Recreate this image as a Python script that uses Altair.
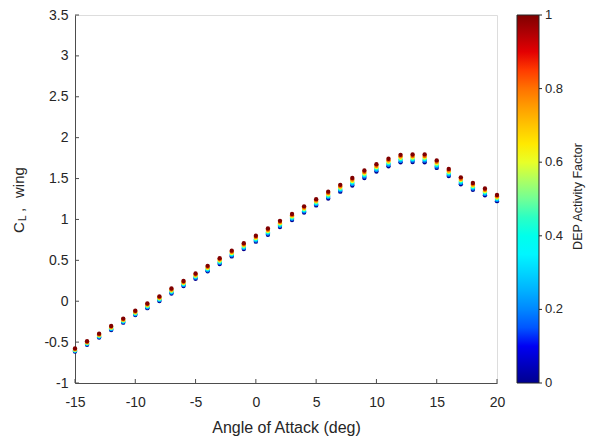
import altair as alt
import pandas as pd

alpha = list(range(-15, 21))
dep_levels = [0.0, 0.2, 0.4, 0.6, 0.8, 1.0]

cl_dep00 = [-0.615, -0.533, -0.445, -0.352, -0.262, -0.170, -0.085, 0.003, 0.095, 0.186, 0.275, 0.366,
            0.455, 0.548, 0.638, 0.728, 0.813, 0.907, 0.992, 1.084, 1.172, 1.256, 1.340, 1.415,
            1.507, 1.586, 1.651, 1.698, 1.702, 1.700, 1.630, 1.530, 1.430, 1.362, 1.295, 1.224]
cl_dep02 = [-0.607, -0.524, -0.435, -0.342, -0.252, -0.159, -0.074, 0.014, 0.107, 0.198, 0.288, 0.379,
            0.469, 0.562, 0.652, 0.743, 0.828, 0.922, 1.007, 1.099, 1.187, 1.273, 1.357, 1.433,
            1.525, 1.604, 1.669, 1.716, 1.720, 1.719, 1.648, 1.548, 1.447, 1.379, 1.312, 1.239]
cl_dep04 = [-0.600, -0.516, -0.426, -0.332, -0.242, -0.149, -0.062, 0.025, 0.119, 0.210, 0.301, 0.393,
            0.483, 0.576, 0.666, 0.757, 0.843, 0.937, 1.022, 1.114, 1.202, 1.290, 1.373, 1.452,
            1.543, 1.622, 1.687, 1.735, 1.739, 1.738, 1.667, 1.565, 1.464, 1.395, 1.329, 1.254]
cl_dep06 = [-0.592, -0.507, -0.416, -0.323, -0.232, -0.138, -0.051, 0.037, 0.131, 0.223, 0.313, 0.406,
            0.498, 0.590, 0.681, 0.772, 0.859, 0.953, 1.037, 1.130, 1.218, 1.306, 1.390, 1.470,
            1.562, 1.639, 1.706, 1.753, 1.757, 1.757, 1.685, 1.583, 1.481, 1.412, 1.345, 1.269]
cl_dep08 = [-0.585, -0.499, -0.407, -0.313, -0.222, -0.128, -0.039, 0.048, 0.143, 0.235, 0.326, 0.420,
            0.512, 0.604, 0.695, 0.786, 0.874, 0.968, 1.052, 1.145, 1.233, 1.323, 1.406, 1.489,
            1.580, 1.657, 1.724, 1.772, 1.776, 1.776, 1.704, 1.600, 1.498, 1.428, 1.362, 1.284]
cl_dep10 = [-0.577, -0.490, -0.397, -0.303, -0.212, -0.117, -0.028, 0.059, 0.155, 0.247, 0.339, 0.433,
            0.526, 0.618, 0.709, 0.801, 0.889, 0.983, 1.067, 1.160, 1.248, 1.340, 1.423, 1.507,
            1.598, 1.675, 1.742, 1.790, 1.794, 1.795, 1.722, 1.618, 1.515, 1.445, 1.379, 1.299]

x_ticks = [-15, -10, -5, 0, 5, 10, 15, 20]
y_ticks = [-1, -0.5, 0, 0.5, 1, 1.5, 2, 2.5, 3, 3.5]
cbar_ticks = [0, 0.2, 0.4, 0.6, 0.8, 1]
cbar_labels = ["0", "0.2", "0.4", "0.6", "0.8", "1"]

jet_stops = [0, 0.111, 0.365, 0.619, 0.873, 1]
jet_colors = ["#00008f", "#0000ff", "#00ffff", "#ffff00", "#ff0000", "#800000"]

series = [cl_dep00, cl_dep02, cl_dep04, cl_dep06, cl_dep08, cl_dep10]
rows = []
for lvl, vals in zip(dep_levels, series):
    for a, v in zip(alpha, vals):
        rows.append({"alpha": a, "cl": v, "dep": lvl})
df = pd.DataFrame(rows)

W, H = 422, 368
FONT = "Liberation Sans"
TXT = "#262626"
AX = "#4d4d4d"
BAR_X = 442      # colorbar left edge, relative to plot
BAR_W = 22

xscale = alt.Scale(domain=[-15, 20], nice=False, zero=False)
yscale = alt.Scale(domain=[-1, 3.5], nice=False, zero=False)

points = alt.Chart(df).mark_circle(size=19, opacity=1).encode(
    x=alt.X("alpha:Q", scale=xscale,
            axis=alt.Axis(values=x_ticks, title="Angle of Attack (deg)", ticks=False, grid=False,
                          labelExpr="'' + datum.value", labelPadding=12, titlePadding=10,
                          labelFlush=False,
                          labelFontSize=14, titleFontSize=16, titleFontWeight="normal",
                          domainColor=AX, labelColor=TXT, titleColor=TXT)),
    y=alt.Y("cl:Q", scale=yscale,
            axis=alt.Axis(values=y_ticks, title=None, ticks=False, grid=False,
                          labelExpr="'' + datum.value", labelPadding=7, labelFlush=False,
                          labelFontSize=14, domainColor=AX, labelColor=TXT)),
    color=alt.Color("dep:Q",
                    scale=alt.Scale(type="linear", domain=jet_stops, range=jet_colors),
                    legend=alt.Legend(title=None, orient="right", offset=20, labelExpr="''",
                                      direction="vertical", gradientLength=H,
                                      gradientThickness=BAR_W,
                                      gradientStrokeColor="#262626", gradientStrokeWidth=1,
                                      values=cbar_ticks)),
    order=alt.Order("dep:Q", sort="ascending"),
)

xt = alt.Chart(pd.DataFrame({"t": x_ticks})).mark_rule(color=AX, strokeWidth=1).encode(
    x=alt.X("t:Q", scale=xscale), y=alt.value(H), y2=alt.value(H - 4))
yt = alt.Chart(pd.DataFrame({"t": y_ticks})).mark_rule(color=AX, strokeWidth=1).encode(
    y=alt.Y("t:Q", scale=yscale), x=alt.value(0), x2=alt.value(4))

cbar_df = pd.DataFrame({"t": cbar_ticks, "lab": cbar_labels})
cbar_pos = alt.Chart(cbar_df).transform_calculate(pos="-1 + datum.t * 4.5")
cbar_text = cbar_pos.mark_text(align="left", baseline="middle", fontSize=13, font=FONT,
                               color=TXT).encode(
    y=alt.Y("pos:Q", scale=yscale), x=alt.value(BAR_X + BAR_W + 6), text="lab:N")
cbar_tick = cbar_pos.mark_rule(color="#262626", strokeWidth=1).encode(
    y=alt.Y("pos:Q", scale=yscale), x=alt.value(BAR_X + BAR_W), x2=alt.value(BAR_X + BAR_W + 3))

def label(txt, x, y, size, align="left", baseline="alphabetic"):
    return alt.Chart(pd.DataFrame({"s": [txt]})).mark_text(
        angle=270, align=align, baseline=baseline, fontSize=size, font=FONT, color=TXT
    ).encode(text="s:N", x=alt.value(x), y=alt.value(y))

ytitle = (label("C", -51.5, 218, 15) + label("L", -49.5, 206, 10)
          + label(",", -51.5, 197, 15) + label("wing", -51.5, 183, 15))
ctitle = label("DEP Activity Factor", 502.5, 181.5, 12.5, align="center", baseline="middle")

chart = alt.layer(xt, yt, points, cbar_tick, cbar_text, ytitle, ctitle).properties(
    width=W, height=H,
    autosize=alt.AutoSizeParams(type="none"),
    padding={"left": 67, "top": 7, "right": 90, "bottom": 53},
).configure_view(stroke=None).configure(font=FONT)

chart.save("out.html", embed_options={"renderer": "svg", "actions": False})
